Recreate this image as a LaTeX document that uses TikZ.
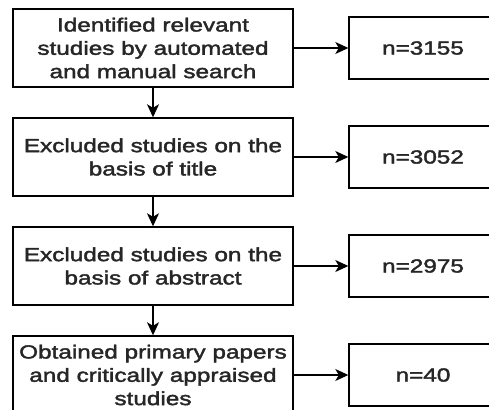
\documentclass[tikz,border=0pt]{standalone}
\usepackage{fontspec}
\setmainfont[FakeStretch=1.28, FakeBold=2]{Liberation Sans}
\usetikzlibrary{arrows.meta}
\tikzset{
  stagebox/.style={draw=black, line width=1.4pt, fill=white, minimum width=280pt, minimum height=78pt,
    align=center, inner sep=0pt, text=black!85,
    font=\fontsize{19}{23.3}\selectfont},
  countbox/.style={draw=black, line width=1.4pt, fill=white, minimum width=148pt, minimum height=62pt,
    inner sep=0pt, text=black!85, font=\fontsize{19}{23.3}\selectfont},
  flow/.style={line width=1.4pt, -{Stealth[length=13pt,width=12pt,inset=3.5pt]}}
}
\begin{document}
\begin{tikzpicture}[x=1pt, y=-1pt]
  \useasboundingbox (0,0) rectangle (489,409);
  \clip (0,0) rectangle (489,409);
  \fill[white] (0,0) rectangle (489,409);

  % main stages
  \node[stagebox] (s1) at (153,48)  {Identified relevant\\studies by automated\\and manual search};
  \node[stagebox] (s2) at (153,157) {Excluded studies on the\\basis of title};
  \node[stagebox] (s3) at (153,266) {Excluded studies on the\\basis of abstract};
  \node[stagebox] (s4) at (153,375) {Obtained primary papers\\and critically appraised\\studies};

  % counts
  \node[countbox] (c1) at (423,48)  {n=3155};
  \node[countbox] (c2) at (423,157) {n=3052};
  \node[countbox] (c3) at (423,266) {n=2975};
  \node[countbox] (c4) at (423,375) {n=40};

  % connectors
  \draw[flow] (s1) -- (s2);
  \draw[flow] (s2) -- (s3);
  \draw[flow] (s3) -- (s4);
  \draw[flow] (s1) -- (c1);
  \draw[flow] (s2) -- (c2);
  \draw[flow] (s3) -- (c3);
  \draw[flow] (s4) -- (c4);
\end{tikzpicture}
\end{document}
